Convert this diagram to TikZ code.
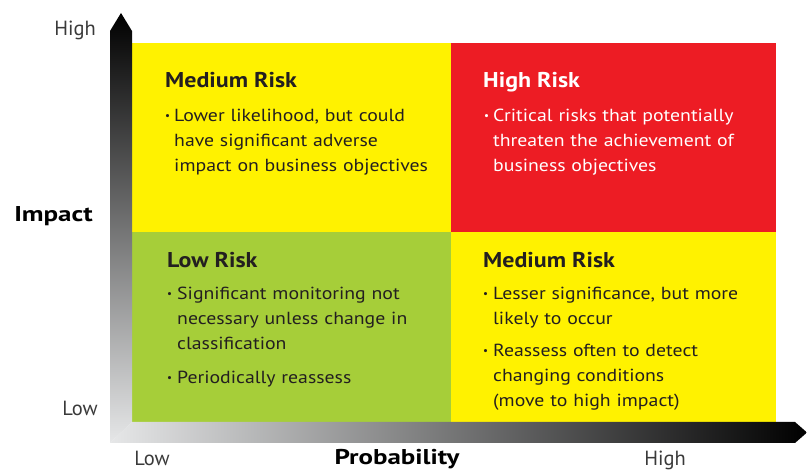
\documentclass[tikz,border=0pt]{standalone}
\usepackage{fontspec}
\setmainfont{PT Sans}
\newfontfamily\bodyfont[FakeStretch=1.13]{PT Sans}
\newfontfamily\ttlfont[FakeStretch=1.12]{PT Sans}
\newfontfamily\axfont[FakeStretch=1.26]{PT Sans}
\definecolor{ryellow}{HTML}{FFF200}
\definecolor{rred}{HTML}{ED1C24}
\definecolor{rgreen}{HTML}{A6CE39}
\definecolor{barlight}{HTML}{E6E7E8}
\definecolor{txt}{HTML}{231F20}
\definecolor{axlbl}{HTML}{3A3A3A}
\newcommand{\bul}{{\fontsize{11}{11}\selectfont\raisebox{2pt}{•}}}
\tikzset{
  ttl/.style={anchor=base west, inner sep=0pt, font=\ttlfont\bfseries\fontsize{21.4}{24}\selectfont},
  bodytxt/.style={anchor=base west, inner sep=0pt, text width=310pt, align=left, font=\bodyfont\fontsize{17.5}{25}\selectfont},
  bulnode/.style={anchor=base west, inner sep=0pt},
  axlabel/.style={anchor=base, inner sep=0pt, text=axlbl, font=\fontsize{20.5}{22}\selectfont},
  axtitle/.style={anchor=base, inner sep=0pt, font=\axfont\bfseries\fontsize{21.4}{24}\selectfont}
}
\begin{document}
\begin{tikzpicture}[x=1pt,y=-1pt]
\useasboundingbox (0,0) rectangle (807,470);
% quadrants
\fill[ryellow] (132,43) rectangle (451,232);
\fill[rred] (451,43) rectangle (776,232);
\fill[rgreen] (132,232) rectangle (451,422);
\fill[ryellow] (451,232) rectangle (776,422);
% axes
\shade[top color=black, bottom color=barlight] (110,443) -- (110,31) -- (121,13) -- (132,31) -- (132,422) -- cycle;
\shade[left color=barlight, right color=black] (110,443) -- (132,422) -- (795,422) -- (807,432.5) -- (795,443) -- cycle;
% axis labels
\node[axlabel] (yhigh) at (75,36) {High};
\node[axlabel] (ylow) at (80,416) {Low};
\node[axlabel] (xlow) at (152,465.5) {Low};
\node[axlabel] (xhigh) at (665,465.5) {High};
\node[axtitle] (impact) at (53.5,221.5) {Impact};
\node[axtitle] (prob) at (397,465) {Probability};
% top-left
\node[ttl, text=txt] (tl) at (165,88) {Medium Risk};
\node[bulnode, text=txt] (tlb) at (165,121.5) {\bul};
\node[bodytxt, text=txt] (tlt) at (174,121.5) {Lower likelihood, but could\\have significant adverse\\impact on business objectives};
% top-right
\node[ttl, text=white] (tr) at (483,88) {High Risk};
\node[bulnode, text=white] (trb) at (484,121.5) {\bul};
\node[bodytxt, text=white] (trt) at (493,121.5) {Critical risks that potentially\\threaten the achievement of\\business objectives};
% bottom-left
\node[ttl, text=txt] (bl) at (167,268) {Low Risk};
\node[bulnode, text=txt] (blb1) at (167,300) {\bul};
\node[bodytxt, text=txt] (blt1) at (177,300) {Significant monitoring not\\necessary unless change in\\classification};
\node[bulnode, text=txt] (blb2) at (167,383.5) {\bul};
\node[bodytxt, text=txt] (blt2) at (177,383.5) {Periodically reassess};
% bottom-right
\node[ttl, text=txt] (br) at (483,268) {Medium Risk};
\node[bulnode, text=txt] (brb1) at (483,300) {\bul};
\node[bodytxt, text=txt] (brt1) at (493,300) {Lesser significance, but more\\likely to occur};
\node[bulnode, text=txt] (brb2) at (483,357) {\bul};
\node[bodytxt, text=txt] (brt2) at (493,357) {Reassess often to detect\\changing conditions\\(move to high impact)};
\end{tikzpicture}
\end{document}
